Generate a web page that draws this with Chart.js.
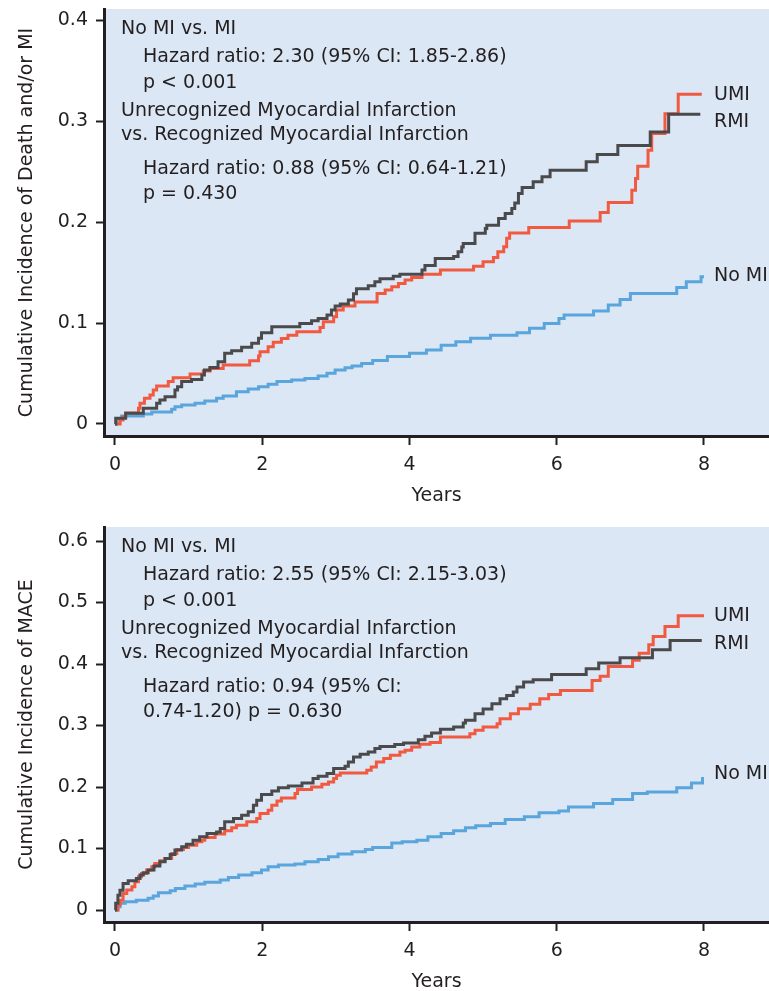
<!DOCTYPE html>
<html>
<head>
<meta charset="utf-8">
<script src="https://cdn.jsdelivr.net/npm/chart.js@4.4.1/dist/chart.umd.min.js"></script>
<style>
  body { margin: 0; background: #fff; width: 769px; height: 991px; overflow: hidden; position: relative; }
  canvas { position: absolute; left: 0; }
  #deathMi { top: 0; }
  #mace { top: 505px; }
</style>
</head>
<body>
<canvas id="deathMi" width="769" height="505"></canvas>
<canvas id="mace" width="769" height="486"></canvas>
<script>
// x axis
const yearTicks = [0, 2, 4, 6, 8];
const yearLabels = ["0", "2", "4", "6", "8"];

// panel A: death and/or MI
const deathTicks = [0, 0.1, 0.2, 0.3, 0.4];
const deathLabels = ["0", "0.1", "0.2", "0.3", "0.4"];

const deathRmiT = [0, 0.01, 0.145, 0.385, 0.566, 0.61, 0.68, 0.815, 0.85, 0.906, 1.04, 1.18, 1.215, 1.29, 1.40, 1.49, 1.585, 1.72, 1.857, 1.95, 1.99, 2.13, 2.51, 2.67, 2.76, 2.88, 2.94, 2.99, 3.06, 3.17, 3.24, 3.28, 3.44, 3.53, 3.60, 3.78, 3.87, 4.17, 4.21, 4.35, 4.60, 4.66, 4.71, 4.73, 4.89, 5.03, 5.05, 5.21, 5.30, 5.39, 5.43, 5.48, 5.53, 5.68, 5.80, 5.91, 6.40, 6.55, 6.83, 7.27, 7.52, 7.95];
const deathRmiY = [0, 0.0056, 0.0106, 0.0155, 0.0205, 0.0238, 0.027, 0.0337, 0.037, 0.042, 0.044, 0.0485, 0.0535, 0.056, 0.0617, 0.070, 0.0726, 0.076, 0.080, 0.085, 0.0904, 0.0963, 0.0997, 0.1023, 0.1046, 0.108, 0.113, 0.117, 0.119, 0.1228, 0.129, 0.134, 0.137, 0.141, 0.144, 0.1465, 0.1485, 0.1525, 0.157, 0.164, 0.166, 0.1706, 0.1755, 0.179, 0.189, 0.1937, 0.197, 0.2037, 0.2086, 0.2135, 0.219, 0.2284, 0.2343, 0.240, 0.245, 0.2515, 0.260, 0.267, 0.276, 0.2894, 0.307, 0.307];

const deathUmiT = [0, 0.07, 0.11, 0.145, 0.32, 0.34, 0.40, 0.476, 0.52, 0.566, 0.724, 0.79, 1.02, 1.20, 1.29, 1.47, 1.83, 1.95, 1.97, 2.08, 2.15, 2.26, 2.35, 2.47, 2.785, 2.83, 2.97, 3.01, 3.10, 3.26, 3.56, 3.67, 3.76, 3.85, 3.94, 4.03, 4.17, 4.42, 4.87, 5.00, 5.14, 5.20, 5.28, 5.32, 5.36, 5.62, 6.17, 6.59, 6.70, 7.02, 7.07, 7.10, 7.24, 7.29, 7.47, 7.65, 7.97];
const deathUmiY = [0, 0.004, 0.0073, 0.011, 0.0155, 0.0205, 0.0254, 0.0287, 0.0337, 0.0376, 0.042, 0.0459, 0.0495, 0.0525, 0.055, 0.0584, 0.0627, 0.0673, 0.0716, 0.0766, 0.081, 0.0848, 0.088, 0.0914, 0.0957, 0.1013, 0.1062, 0.1129, 0.117, 0.121, 0.1294, 0.1327, 0.136, 0.1393, 0.1426, 0.1452, 0.1485, 0.1525, 0.1564, 0.1607, 0.165, 0.1706, 0.1756, 0.184, 0.1894, 0.1947, 0.2013, 0.2096, 0.2195, 0.2317, 0.2433, 0.2554, 0.2713, 0.2878, 0.3076, 0.3267, 0.3267];

const deathNoMiT = [0, 0.03, 0.09, 0.385, 0.5, 0.77, 0.815, 0.906, 1.087, 1.22, 1.38, 1.47, 1.65, 1.81, 1.95, 2.08, 2.20, 2.40, 2.58, 2.76, 2.88, 2.99, 3.125, 3.22, 3.35, 3.5, 3.7, 4.0, 4.23, 4.43, 4.63, 4.83, 5.1, 5.46, 5.63, 5.83, 6.03, 6.1, 6.5, 6.7, 6.86, 7.0, 7.63, 7.76, 7.96, 8.0];
const deathNoMiY = [0, 0.005, 0.0079, 0.0099, 0.0119, 0.0145, 0.0171, 0.0188, 0.0205, 0.0228, 0.0254, 0.0277, 0.032, 0.0347, 0.037, 0.0393, 0.042, 0.0436, 0.0452, 0.0475, 0.0502, 0.0535, 0.0557, 0.0574, 0.060, 0.063, 0.067, 0.070, 0.0733, 0.078, 0.0815, 0.085, 0.088, 0.0904, 0.0948, 0.0997, 0.1046, 0.108, 0.112, 0.118, 0.1234, 0.1294, 0.1353, 0.141, 0.146, 0.146];

const deathNotes = [
  "No MI vs. MI",
  "Hazard ratio: 2.30 (95% CI: 1.85-2.86)",
  "p < 0.001",
  "Unrecognized Myocardial Infarction",
  "vs. Recognized Myocardial Infarction",
  "Hazard ratio: 0.88 (95% CI: 0.64-1.21)",
  "p = 0.430"
];

// panel B: MACE
const maceTicks = [0, 0.1, 0.2, 0.3, 0.4, 0.5, 0.6];
const maceLabels = ["0", "0.1", "0.2", "0.3", "0.4", "0.5", "0.6"];

const maceRmiT = [0, 0.01, 0.04, 0.068, 0.11, 0.18, 0.29, 0.34, 0.385, 0.45, 0.53, 0.61, 0.68, 0.75, 0.815, 0.906, 0.97, 1.06, 1.15, 1.25, 1.38, 1.43, 1.49, 1.61, 1.72, 1.81, 1.88, 1.925, 1.99, 2.13, 2.22, 2.355, 2.54, 2.69, 2.76, 2.88, 2.97, 3.125, 3.17, 3.24, 3.33, 3.44, 3.53, 3.60, 3.80, 3.92, 4.12, 4.21, 4.30, 4.42, 4.60, 4.73, 4.76, 4.89, 5.00, 5.12, 5.23, 5.32, 5.41, 5.46, 5.55, 5.68, 5.93, 6.40, 6.57, 6.86, 7.30, 7.54, 7.97];
const maceRmiY = [0, 0.011, 0.024, 0.032, 0.043, 0.0476, 0.0514, 0.0568, 0.0606, 0.065, 0.0714, 0.0785, 0.0839, 0.0904, 0.0974, 0.1028, 0.107, 0.1136, 0.119, 0.1245, 0.127, 0.1326, 0.1434, 0.1488, 0.154, 0.1596, 0.1705, 0.1786, 0.188, 0.1937, 0.199, 0.2018, 0.2067, 0.2137, 0.2175, 0.222, 0.230, 0.2338, 0.2408, 0.249, 0.2532, 0.257, 0.2625, 0.266, 0.269, 0.2716, 0.277, 0.2825, 0.2878, 0.2938, 0.2976, 0.304, 0.3084, 0.319, 0.327, 0.3355, 0.3436, 0.349, 0.3544, 0.3625, 0.3706, 0.3745, 0.383, 0.3924, 0.4015, 0.41, 0.4232, 0.4383, 0.4383];

const maceUmiT = [0, 0.04, 0.07, 0.11, 0.16, 0.23, 0.27, 0.32, 0.36, 0.43, 0.50, 0.54, 0.61, 0.68, 0.77, 0.84, 0.93, 1.00, 1.11, 1.18, 1.22, 1.36, 1.49, 1.585, 1.65, 1.79, 1.925, 1.97, 2.08, 2.13, 2.20, 2.26, 2.445, 2.48, 2.67, 2.81, 2.90, 2.97, 3.01, 3.06, 3.42, 3.48, 3.55, 3.65, 3.74, 3.87, 3.94, 4.03, 4.14, 4.28, 4.42, 4.82, 4.89, 5.00, 5.19, 5.23, 5.37, 5.48, 5.64, 5.77, 5.89, 6.05, 6.48, 6.59, 6.70, 7.03, 7.12, 7.25, 7.31, 7.47, 7.65, 8.0];
const maceUmiY = [0, 0.008, 0.016, 0.027, 0.0325, 0.0379, 0.046, 0.054, 0.0595, 0.065, 0.0703, 0.0758, 0.080, 0.0839, 0.092, 0.0985, 0.1017, 0.1055, 0.111, 0.1136, 0.118, 0.1234, 0.1288, 0.1336, 0.138, 0.1434, 0.1488, 0.157, 0.1623, 0.1705, 0.1774, 0.1823, 0.1894, 0.196, 0.200, 0.2045, 0.2083, 0.2137, 0.219, 0.2229, 0.2273, 0.2326, 0.2407, 0.2462, 0.2516, 0.257, 0.2597, 0.265, 0.2695, 0.2722, 0.2813, 0.2868, 0.2922, 0.2976, 0.303, 0.3112, 0.3193, 0.3274, 0.3344, 0.3436, 0.3506, 0.357, 0.3734, 0.380, 0.396, 0.406, 0.4177, 0.4313, 0.4448, 0.461, 0.4784, 0.4784];

const maceNoMiT = [0, 0.04, 0.07, 0.14, 0.29, 0.45, 0.52, 0.59, 0.75, 0.82, 0.95, 1.09, 1.22, 1.43, 1.54, 1.68, 1.86, 1.99, 2.08, 2.22, 2.445, 2.58, 2.76, 2.90, 3.03, 3.22, 3.40, 3.5, 3.76, 3.9, 4.1, 4.25, 4.43, 4.6, 4.76, 4.9, 5.1, 5.3, 5.56, 5.76, 6.03, 6.16, 6.5, 6.76, 7.03, 7.23, 7.63, 7.83, 7.98, 8.0];
const maceNoMiY = [0, 0.0054, 0.0108, 0.0135, 0.016, 0.019, 0.0227, 0.028, 0.0313, 0.035, 0.039, 0.0422, 0.045, 0.0487, 0.053, 0.0568, 0.0606, 0.065, 0.0703, 0.073, 0.0747, 0.0785, 0.0822, 0.0866, 0.0909, 0.0947, 0.0985, 0.1017, 0.109, 0.111, 0.1136, 0.119, 0.1245, 0.129, 0.1336, 0.137, 0.1407, 0.147, 0.1515, 0.158, 0.161, 0.1677, 0.173, 0.1797, 0.1894, 0.192, 0.199, 0.2067, 0.2138, 0.2138];

const maceNotes = [
  "No MI vs. MI",
  "Hazard ratio: 2.55 (95% CI: 2.15-3.03)",
  "p < 0.001",
  "Unrecognized Myocardial Infarction",
  "vs. Recognized Myocardial Infarction",
  "Hazard ratio: 0.94 (95% CI:",
  "0.74-1.20) p = 0.630"
];

const noteIndent = [false, true, true, false, false, true, true];
const noteRows = [20.5, 48, 74, 102, 126.5, 160, 185];

const ink = "#231f20";
const panelBg = "#dbe7f4";
const font = '"DejaVu Sans", sans-serif';

const panelPlugin = {
  id: "panel",
  beforeDraw(chart) {
    const {ctx, chartArea: a} = chart;
    ctx.save();
    ctx.fillStyle = panelBg;
    ctx.fillRect(a.left, a.top, a.right - a.left, a.bottom - a.top);
    ctx.restore();
  },
  afterDraw(chart, args, opts) {
    const {ctx, chartArea: a, scales: {x, y}} = chart;
    ctx.save();
    ctx.font = "19px " + font;
    ctx.fillStyle = ink;
    ctx.textBaseline = "middle";
    ctx.textAlign = "left";
    opts.notes.forEach(function (line, i) {
      ctx.fillText(line, a.left + (noteIndent[i] ? 39 : 17), a.top + noteRows[i]);
    });
    chart.data.datasets.forEach(function (ds, i) {
      const last = ds.data[ds.data.length - 1];
      ctx.fillText(ds.label, x.getPixelForValue(8) + 10, y.getPixelForValue(last.y) + opts.labelShift[i]);
    });
    ctx.restore();
  }
};

function pairs(t, v) {
  return t.map(function (x, i) { return {x: x, y: v[i]}; });
}

function line(label, t, v, colour) {
  return {
    label: label,
    data: pairs(t, v),
    borderColor: colour,
    borderWidth: 3,
    stepped: "before",
    pointRadius: 0,
    fill: false,
    borderCapStyle: "butt",
    borderJoinStyle: "miter"
  };
}

function makeChart(id, o) {
  return new Chart(document.getElementById(id), {
    type: "line",
    data: {
      datasets: [
        line("RMI", o.rmiT, o.rmiY, "#4a4a4c"),
        line("UMI", o.umiT, o.umiY, "#f15a40"),
        line("No MI", o.noT, o.noY, "#5aa5dc")
      ]
    },
    options: {
      responsive: false,
      animation: false,
      events: [],
      layout: { padding: { top: o.top, left: 0, right: 0, bottom: 0 } },
      plugins: {
        legend: { display: false },
        tooltip: { enabled: false },
        panel: { notes: o.notes, labelShift: o.shift }
      },
      scales: {
        x: {
          type: "linear",
          min: -0.149,
          max: 8.883,
          afterFit: function (s) { s.height = 69; s.paddingLeft = 0; s.paddingRight = 0; },
          afterBuildTicks: function (s) { s.ticks = yearTicks.map(function (v) { return {value: v}; }); },
          ticks: {
            padding: 9,
            color: ink,
            font: { family: font, size: 19 },
            callback: function (v) { return yearLabels[yearTicks.indexOf(v)]; }
          },
          grid: { drawOnChartArea: false, drawTicks: true, tickLength: 9, tickWidth: 2, tickColor: ink },
          border: { display: true, width: 3, color: ink },
          title: { display: true, text: "Years", color: ink, font: { family: font, size: 19, lineHeight: 0.9 }, padding: 0 }
        },
        y: {
          min: o.ymin,
          max: o.ymax,
          afterFit: function (s) { s.width = 104; s.paddingTop = 0; s.paddingBottom = 0; },
          afterBuildTicks: function (s) { s.ticks = o.ticks.map(function (v) { return {value: v}; }); },
          ticks: {
            padding: 8,
            color: ink,
            font: { family: font, size: 19 },
            callback: function (v) { return o.labels[o.ticks.indexOf(v)]; }
          },
          grid: { drawOnChartArea: false, drawTicks: true, tickLength: 8, tickWidth: 2, tickColor: ink },
          border: { display: true, width: 3, color: ink },
          title: { display: true, text: o.title, color: ink, font: { family: font, size: 19 }, padding: { top: 16, bottom: 0 } }
        }
      }
    },
    plugins: [panelPlugin]
  });
}

makeChart("deathMi", {
  top: 9, ymin: -0.0119, ymax: 0.4113,
  ticks: deathTicks, labels: deathLabels,
  title: "Cumulative Incidence of Death and/or MI",
  rmiT: deathRmiT, rmiY: deathRmiY,
  umiT: deathUmiT, umiY: deathUmiY,
  noT: deathNoMiT, noY: deathNoMiY,
  notes: deathNotes, shift: [7.5, 1, -1]
});

makeChart("mace", {
  top: 22, ymin: -0.0195, ymax: 0.6228,
  ticks: maceTicks, labels: maceLabels,
  title: "Cumulative Incidence of MACE",
  rmiT: maceRmiT, rmiY: maceRmiY,
  umiT: maceUmiT, umiY: maceUmiY,
  noT: maceNoMiT, noY: maceNoMiY,
  notes: maceNotes, shift: [4, 0, -4]
});
</script>
</body>
</html>
